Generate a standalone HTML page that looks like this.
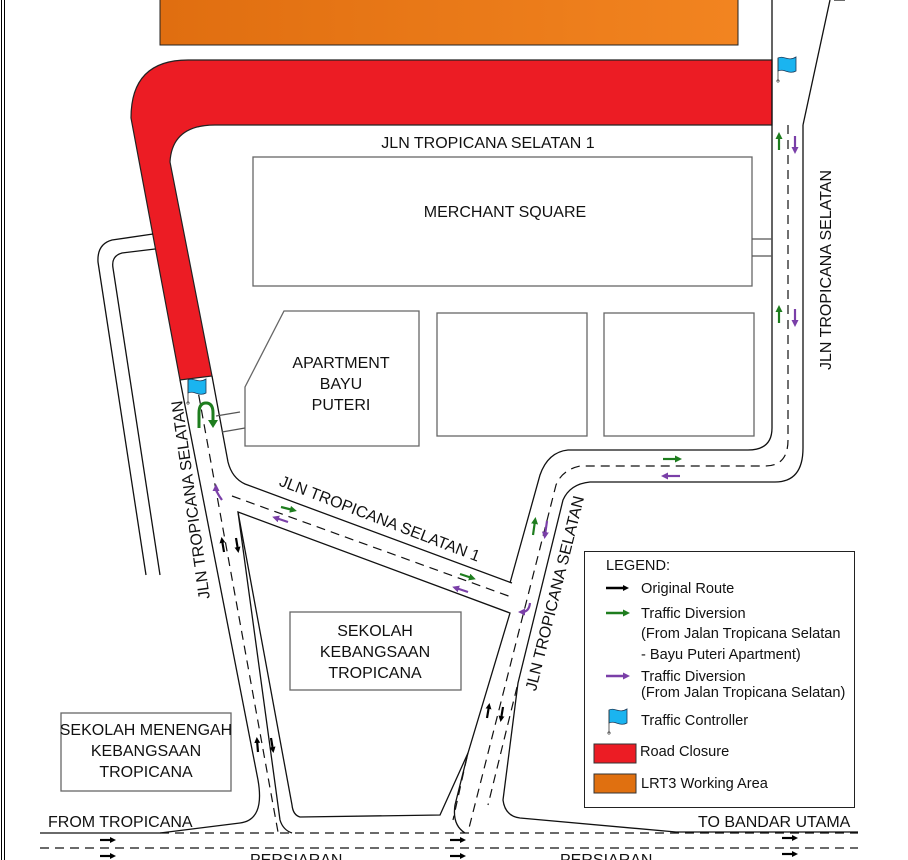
<!DOCTYPE html>
<html><head><meta charset="utf-8"><style>
html,body{margin:0;padding:0;background:#fff;}
svg{display:block;font-family:"Liberation Sans",sans-serif;}
</style></head><body>
<svg width="908" height="860" viewBox="0 0 908 860" xmlns="http://www.w3.org/2000/svg">
<defs>
<linearGradient id="og" x1="0" x2="1"><stop offset="0" stop-color="#e06e10"/><stop offset="1" stop-color="#f28420"/></linearGradient>
<marker id="ab" markerWidth="6" markerHeight="6" refX="3" refY="3" orient="auto" markerUnits="userSpaceOnUse"><path d="M0,0 L6,3 L0,6z" fill="#000"/></marker>
<marker id="ag" markerWidth="7" markerHeight="7" refX="3" refY="3.5" orient="auto" markerUnits="userSpaceOnUse"><path d="M0,0 L7,3.5 L0,7z" fill="#1e7d1e"/></marker>
<marker id="ap" markerWidth="7" markerHeight="7" refX="3" refY="3.5" orient="auto" markerUnits="userSpaceOnUse"><path d="M0,0 L7,3.5 L0,7z" fill="#7a3fa8"/></marker>
<g id="flag"><path d="M2,2 C8,-1 12,6 20,1 L20,15 C13,19 8,12 2,15z" fill="#1ab4f0" stroke="#1a3a5a" stroke-width="0.8"/><line x1="2" y1="2" x2="2" y2="25" stroke="#333" stroke-width="0.8"/><circle cx="2" cy="25" r="1.2" fill="none" stroke="#333" stroke-width="0.6"/></g>
</defs>

<line x1="1.5" y1="0" x2="1.5" y2="860" stroke="#000" stroke-width="1"/>
<line x1="4.5" y1="0" x2="4.5" y2="860" stroke="#000" stroke-width="1"/>

<rect x="160" y="-2" width="578" height="47" fill="url(#og)" stroke="#222" stroke-width="1"/>

<path d="M772,60 L188,60 Q131,60 131,118 L180,380 L212,376 L170,162 Q172,125 215,125 L772,125 Z" fill="#ec1c24" stroke="#222" stroke-width="1.2"/>

<g fill="none" stroke="#111" stroke-width="1.3">
<path d="M772,0 L772,428 Q772,450 748,450 L568,450 Q548,452 540,475 L510,583"/>
<path d="M803,125 L830,0"/>
<path d="M803,125 L803,448 Q803,482 775,482 L590,482 Q570,484 563,500 L518,683 L503,800 Q505,816 520,818 L676,832 L858,832"/>
<path d="M180,380 L258,780 Q265,820 240,823 L160,833 L40,833"/>
<path d="M212,376 L228,462 Q232,478 245,484 L512,583"/>
<path d="M238,512 L510,613 L468,753 L440,815 L300,817 Q293,815 292,805 Z"/>
<path d="M238,512 L280,820 Q283,830 292,833"/>
<path d="M468,753 L455,805 Q452,825 465,833"/>
<path d="M153,234 L112,240 Q97,244 98,262 L146,575"/>
<path d="M155,249 L122,253 Q111,256 113,268 L160,575"/>
</g>

<g fill="none" stroke="#111" stroke-width="1.2" stroke-dasharray="9,6">
<path d="M788,125 L788,440 Q788,466 765,466 L580,466 Q562,470 556,485 L468,832"/>
<path d="M196,380 L278,832"/>
<path d="M232,496 L514,598"/>
<path d="M517,687 L488,805"/>
<path d="M467,757 L453,820"/>
<path d="M160,833 L858,833"/>
<path d="M40,848 L858,848"/>
</g>

<g fill="#fff" stroke="#666" stroke-width="1.3">
<rect x="253" y="157" width="499" height="129"/>
<path d="M284,311 L419,311 L419,446 L245,446 L245,387 Z"/>
<rect x="437" y="313" width="150" height="123"/>
<rect x="604" y="313" width="150" height="123"/>
<rect x="290" y="612" width="171" height="78"/>
<rect x="61" y="713" width="170" height="78"/>
</g>
<g stroke="#555" stroke-width="1.2">
<line x1="752" y1="239" x2="772" y2="239"/><line x1="752" y1="256" x2="772" y2="256"/>
<line x1="216" y1="416" x2="240" y2="412"/><line x1="222" y1="432" x2="245" y2="428"/>
</g>

<rect x="584.5" y="551.5" width="270" height="256" fill="#fff" stroke="#222" stroke-width="1"/>

<g font-size="16" fill="#111" text-anchor="middle">
<text x="488" y="148">JLN TROPICANA SELATAN 1</text>
<text x="505" y="217">MERCHANT SQUARE</text>
<text x="341" y="368">APARTMENT</text><text x="341" y="389">BAYU</text><text x="341" y="410">PUTERI</text>
<text x="375" y="636">SEKOLAH</text><text x="375" y="657">KEBANGSAAN</text><text x="375" y="678">TROPICANA</text>
<text x="146" y="735">SEKOLAH MENENGAH</text><text x="146" y="756">KEBANGSAAN</text><text x="146" y="777">TROPICANA</text>
<text x="380" y="524" transform="rotate(21 380 518)">JLN TROPICANA SELATAN 1</text>
<text x="190" y="506" transform="rotate(-98 190 500)">JLN TROPICANA SELATAN</text>
<text x="830" y="281" transform="rotate(-90 825 275)">JLN TROPICANA SELATAN</text>
<text x="558" y="604" transform="rotate(-76 553 598)">JLN TROPICANA SELATAN</text>
<text x="850" y="2" transform="rotate(-90 845 2)">F</text>
</g>
<g font-size="16" fill="#111">
<text x="48" y="827">FROM TROPICANA</text>
<text x="698" y="827">TO BANDAR UTAMA</text>
<text x="250" y="865">PERSIARAN</text>
<text x="560" y="865">PERSIARAN</text>
</g>

<g font-size="14.6" fill="#111">
<text x="606" y="570">LEGEND:</text>
<text x="641" y="593">Original Route</text>
<text x="641" y="618">Traffic Diversion</text>
<text x="641" y="638">(From Jalan Tropicana Selatan</text>
<text x="641" y="659">- Bayu Puteri Apartment)</text>
<text x="641" y="681">Traffic Diversion</text>
<text x="641" y="697">(From Jalan Tropicana Selatan)</text>
<text x="641" y="725">Traffic Controller</text>
<text x="640" y="756">Road Closure</text>
<text x="641" y="788">LRT3 Working Area</text>
</g>
<line x1="606" y1="588" x2="626" y2="588" stroke="#000" stroke-width="2.5" marker-end="url(#ab)"/>
<line x1="606" y1="613" x2="626" y2="613" stroke="#1e7d1e" stroke-width="2.5" marker-end="url(#ag)"/>
<line x1="606" y1="676" x2="626" y2="676" stroke="#7a3fa8" stroke-width="2.5" marker-end="url(#ap)"/>
<use href="#flag" x="607" y="708"/>
<rect x="594" y="744" width="42" height="19" fill="#ec1c24" stroke="#333"/>
<rect x="594" y="774" width="42" height="19" fill="#e07010" stroke="#333"/>

<use href="#flag" x="776" y="56"/>
<use href="#flag" x="186" y="378"/>

<path d="M199,428 L199,413 Q199,403 206,403 Q213,403 213,413 L213,420" fill="none" stroke="#1e7d1e" stroke-width="3"/>
<path d="M208,420 L218,420 L213,428z" fill="#1e7d1e"/>

<g stroke="#1e7d1e" stroke-width="2.2" fill="none">
<line x1="779" y1="150" x2="779" y2="136" marker-end="url(#ag)"/>
<line x1="779" y1="323" x2="779" y2="309" marker-end="url(#ag)"/>
<line x1="663" y1="459" x2="678" y2="459" marker-end="url(#ag)"/>
<line x1="533" y1="535" x2="535" y2="521" marker-end="url(#ag)"/>
<line x1="281" y1="507" x2="293" y2="510" marker-end="url(#ag)"/>
<line x1="460" y1="574" x2="472" y2="578" marker-end="url(#ag)"/>
</g>
<g stroke="#7a3fa8" stroke-width="2.2" fill="none">
<line x1="795" y1="136" x2="795" y2="150" marker-end="url(#ap)"/>
<line x1="795" y1="309" x2="795" y2="323" marker-end="url(#ap)"/>
<line x1="680" y1="476" x2="665" y2="476" marker-end="url(#ap)"/>
<line x1="547" y1="521" x2="545" y2="535" marker-end="url(#ap)"/>
<line x1="288" y1="522" x2="276" y2="518" marker-end="url(#ap)"/>
<line x1="468" y1="592" x2="456" y2="588" marker-end="url(#ap)"/>
<path d="M222,500 Q216,492 216,488" marker-end="url(#ap)"/>
<path d="M530,603 Q529,612 522,612" marker-end="url(#ap)"/>
</g>
<g stroke="#000" stroke-width="2.2" fill="none">
<line x1="224" y1="552" x2="222" y2="540" marker-end="url(#ab)"/>
<line x1="236" y1="538" x2="238" y2="550" marker-end="url(#ab)"/>
<line x1="258" y1="752" x2="257" y2="740" marker-end="url(#ab)"/>
<line x1="271" y1="738" x2="273" y2="750" marker-end="url(#ab)"/>
<line x1="487" y1="718" x2="489" y2="706" marker-end="url(#ab)"/>
<line x1="503" y1="707" x2="501" y2="719" marker-end="url(#ab)"/>
<line x1="100" y1="840" x2="113" y2="840" marker-end="url(#ab)"/>
<line x1="100" y1="856" x2="113" y2="856" marker-end="url(#ab)"/>
<line x1="450" y1="840" x2="463" y2="840" marker-end="url(#ab)"/>
<line x1="450" y1="856" x2="463" y2="856" marker-end="url(#ab)"/>
<line x1="782" y1="838" x2="795" y2="838" marker-end="url(#ab)"/>
<line x1="782" y1="854" x2="795" y2="854" marker-end="url(#ab)"/>
</g>
</svg>
</body></html>
